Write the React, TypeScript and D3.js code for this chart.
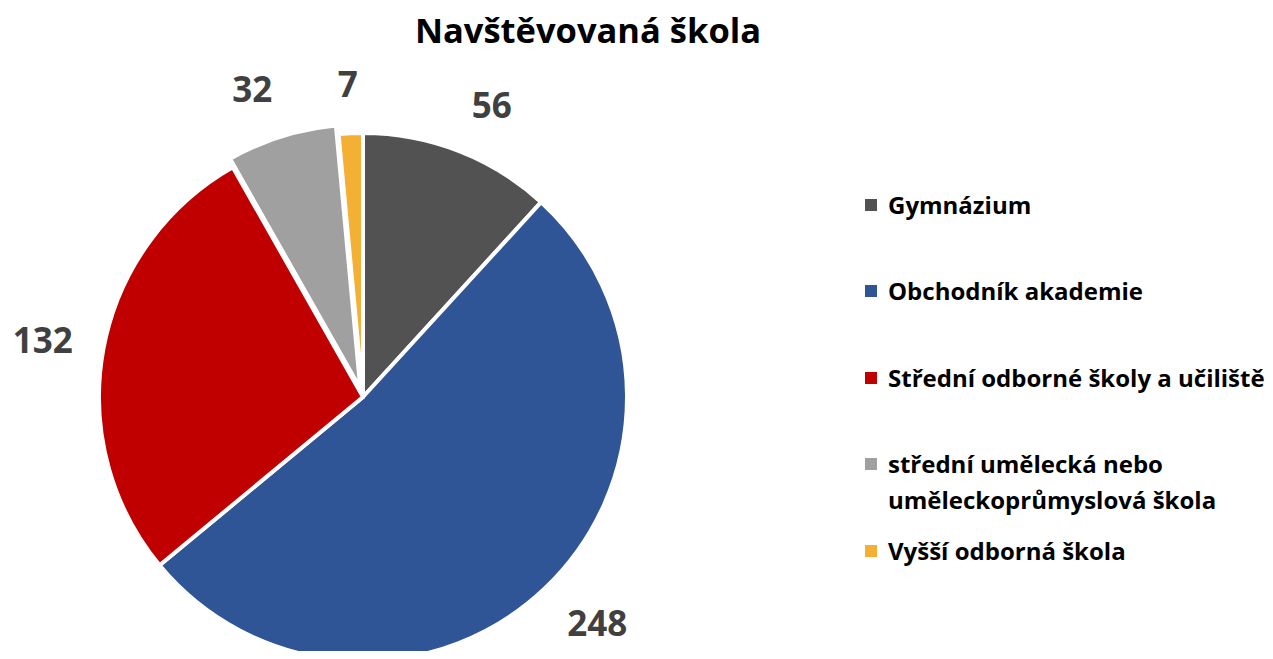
import { useRef, useEffect } from "react";
import * as d3 from "d3";

const categories = [
  "Gymnázium",
  "Obchodník akademie",
  "Střední odborné školy a učiliště",
  "střední umělecká nebo uměleckoprůmyslová škola",
  "Vyšší odborná škola",
];
const values = [56, 248, 132, 32, 7];
const colors = ["#525252", "#2F5597", "#C00000", "#A0A0A0", "#F4B034"];
// legend lines (the long one wraps in the original)
const legendLines = [
  ["Gymnázium"],
  ["Obchodník akademie"],
  ["Střední odborné školy a učiliště"],
  ["střední umělecká nebo", "uměleckoprůmyslová škola"],
  ["Vyšší odborná škola"],
];
const exploded = [0, 0, 0, 1, 0];
const title = "Navštěvovaná škola";

const W = 1273;
const H = 659;
const FONT = "'Open Sans', Lato, sans-serif";

export default function App() {
  const svgRef = useRef<SVGSVGElement | null>(null);

  useEffect(() => {
    const svg = d3.select(svgRef.current);
    svg.selectAll("*").remove();

    const cx = 363;
    const cy = 397;
    const r = 264;

    svg
      .append("text")
      .attr("x", 588)
      .attr("y", 43)
      .attr("text-anchor", "middle")
      .attr("font-family", FONT)
      .attr("font-weight", 700)
      .attr("font-size", 34.5)
      .attr("fill", "#000")
      .text(title);

    const pie = d3
      .pie<number>()
      .sort(null)
      .value((d) => d);
    const arcs = pie(values);
    const arc = d3.arc<d3.PieArcDatum<number>>().innerRadius(0).outerRadius(r);

    const g = svg.append("g").attr("transform", `translate(${cx},${cy})`);

    const shift = (d: d3.PieArcDatum<number>, i: number) => {
      const mid = (d.startAngle + d.endAngle) / 2;
      const off = exploded[i] * 9;
      return [Math.sin(mid) * off, -Math.cos(mid) * off];
    };

    g.selectAll("path.slice")
      .data(arcs)
      .join("path")
      .attr("class", "slice")
      .attr("d", arc)
      .attr("transform", (d, i) => {
        const [dx, dy] = shift(d, i);
        return `translate(${dx},${dy})`;
      })
      .attr("fill", (_, i) => colors[i])
      .attr("stroke", "#fff")
      .attr("stroke-width", 4)
      .attr("stroke-linejoin", "round");

    // outside-end labels: the text box is pushed off the circle like Excel does
    const labelR = r + 28;
    const boxH = 42;
    g.selectAll("text.lbl")
      .data(arcs)
      .join("text")
      .attr("class", "lbl")
      .attr("text-anchor", "middle")
      .attr("dy", "0.36em")
      .attr("font-family", FONT)
      .attr("font-weight", 700)
      .attr("font-size", 35)
      .attr("fill", "#404040")
      .text((d) => d.data)
      .attr("transform", function (d, i) {
        const w = (this as SVGTextElement).getComputedTextLength();
        const mid = (d.startAngle + d.endAngle) / 2;
        const ux = Math.sin(mid);
        const uy = -Math.cos(mid);
        const [dx, dy] = shift(d, i);
        const px = Math.max(-1, Math.min(1, ux * 3));
        const x = ux * labelR + px * (w / 2 + 3) + dx;
        const y = uy * labelR + uy * (boxH / 2) + dy;
        return `translate(${x},${y})`;
      });

    const baselines = [214, 300, 387, 473, 560];
    const legend = svg.append("g");
    legendLines.forEach((lines, i) => {
      const y = baselines[i];
      legend
        .append("rect")
        .attr("x", 865)
        .attr("y", y - 15)
        .attr("width", 12)
        .attr("height", 12)
        .attr("fill", colors[i]);
      const t = legend
        .append("text")
        .attr("x", 888)
        .attr("y", y)
        .attr("font-family", FONT)
        .attr("font-weight", 700)
        .attr("font-size", 24)
        .attr("fill", "#000")
        .attr("aria-label", categories[i]);
      lines.forEach((line, j) => {
        t.append("tspan")
          .attr("x", 888)
          .attr("dy", j === 0 ? 0 : 36)
          .text(line);
      });
    });
  }, []);

  return (
    <div style={{ width: W, height: H, margin: -8, overflow: "hidden" }}>
      <svg ref={svgRef} width={W} height={H} style={{ display: "block" }} />
    </div>
  );
}
